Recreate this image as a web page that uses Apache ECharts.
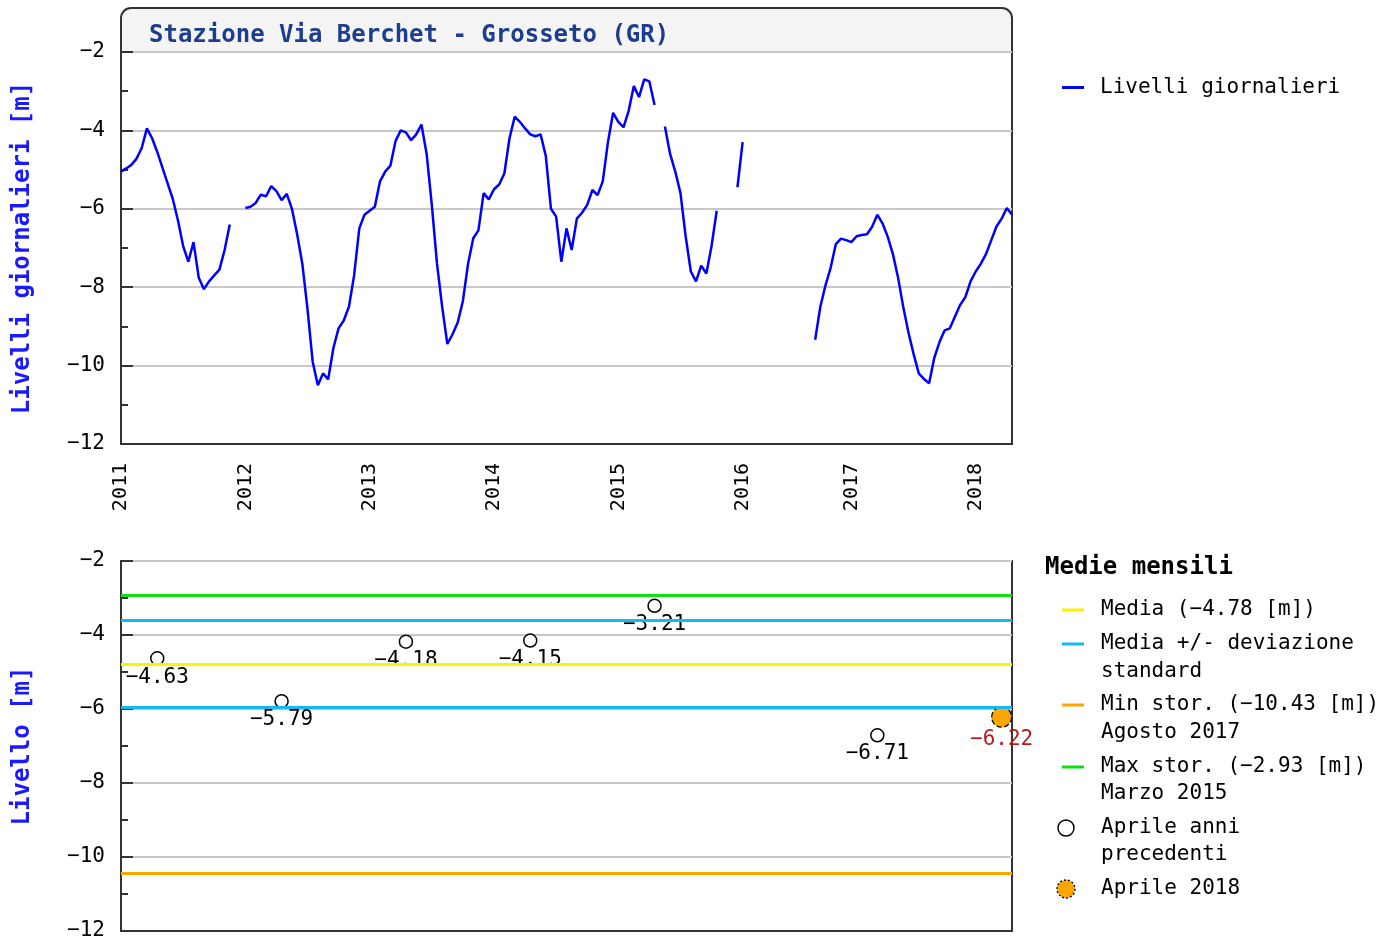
<!DOCTYPE html>
<html>
<head>
<meta charset="utf-8">
<title>Stazione Via Berchet - Grosseto (GR)</title>
<script src="https://cdn.jsdelivr.net/npm/echarts@6/dist/echarts.min.js"></script>
<style>
  html, body { margin: 0; padding: 0; background: #fff; }
  #chart { width: 1397px; height: 943px; }
</style>
</head>
<body>
<div id="chart"></div>
<script>
// livelli giornalieri (campionati ogni mezzo mese) [m]
const lv2011 = [-5.05, -4.97, -4.88, -4.72, -4.45, -3.95, -4.2, -4.55, -4.95, -5.35, -5.75, -6.3,
  -6.95, -7.35, -6.85, -7.75, -8.05, -7.85, -7.7, -7.55, -7.05, -6.4, null, null]
const lv2012 = [-5.98, -5.95, -5.85, -5.64, -5.68, -5.42, -5.55, -5.78, -5.62, -6.0, -6.65, -7.4,
  -8.55, -9.9, -10.5, -10.2, -10.35, -9.55, -9.05, -8.85, -8.5, -7.7, -6.5, -6.15]
const lv2013 = [-6.05, -5.95, -5.3, -5.05, -4.9, -4.27, -4.0, -4.05, -4.25, -4.1, -3.85, -4.6,
  -5.9, -7.4, -8.5, -9.45, -9.2, -8.9, -8.35, -7.4, -6.75, -6.55, -5.6, -5.76]
const lv2014 = [-5.5, -5.38, -5.1, -4.2, -3.65, -3.78, -3.95, -4.1, -4.15, -4.1, -4.65, -6.0,
  -6.2, -7.35, -6.5, -7.05, -6.25, -6.1, -5.9, -5.52, -5.65, -5.3, -4.3, -3.55]
const lv2015 = [-3.78, -3.92, -3.5, -2.87, -3.15, -2.7, -2.75, -3.35, null, -3.9, -4.6, -5.05,
  -5.6, -6.7, -7.6, -7.85, -7.45, -7.65, -6.95, -6.05, null, null, null, -5.45]
// 2016: mancano alcune date (marzo)
const lv2016 = [-4.3, null, null, null, null, null, null, null, null, null, null, null, null, null,
  -9.34, -8.5, -7.95, -7.5, -6.9, -6.76, -6.8]
const lv2017 = [-6.85, -6.7, -6.67, -6.65, -6.46, -6.15, -6.37, -6.71, -7.15, -7.75, -8.5, -9.15,
  -9.7, -10.2, -10.34, -10.45, -9.8, -9.4, -9.1, -9.05, -8.75, -8.45, -8.25, -7.85]
const lv2018 = [-7.6, -7.4, -7.15, -6.8, -6.45, -6.25, -5.98, -6.15]

const years = [2011, 2012, 2013, 2014, 2015, 2016, 2017, 2018]
const missingDates = ['2016-03-01', '2016-03-15', '2016-04-01']
const lastDate = '2018-04-15'

// medie mensili di aprile
const aprilDates = ['2011-04-15', '2012-04-15', '2013-04-15', '2014-04-15', '2015-04-15', '2017-03-15']
const aprilValues = [-4.63, -5.79, -4.18, -4.15, -3.21, -6.71]
const currentDate = '2018-03-15'
const currentValue = -6.22

const meanLevel = -4.78
const stdDev = 1.18
const minLevel = -10.43
const maxLevel = -2.93

const FONT = '"DejaVu Sans Mono", monospace'
const minus = s => String(s).replace('-', '\u2212')

// date semimensili dell'asse x
const categories = []
years.forEach(y => {
  for (let m = 1; m <= 12; m++) {
    ['01', '15'].forEach(d => {
      const s = y + '-' + String(m).padStart(2, '0') + '-' + d
      if (s <= lastDate && !missingDates.includes(s)) categories.push(s)
    })
  }
})
const levels = [].concat(lv2011, lv2012, lv2013, lv2014, lv2015, lv2016, lv2017, lv2018)

const yAxisBase = {
  type: 'value',
  min: -12,
  max: -2,
  interval: 2,
  axisLine: { show: true, lineStyle: { color: '#333', width: 2 } },
  axisTick: { show: true, inside: true, length: 12, lineStyle: { color: '#333', width: 2 } },
  minorTick: { show: true, splitNumber: 2, length: 7, lineStyle: { color: '#333', width: 2 } },
  splitLine: { show: true, lineStyle: { color: '#c8c8c8', width: 2 } },
  axisLabel: { margin: 16, fontFamily: FONT, fontSize: 21, color: '#000', formatter: minus },
  nameLocation: 'middle',
  nameRotate: 90,
  nameGap: 86,
  nameTextStyle: { fontFamily: FONT, fontSize: 24, fontWeight: 'bold', color: '#1a1aff' }
}

const chart = echarts.init(document.getElementById('chart'))

chart.setOption({
  animation: false,
  backgroundColor: '#fff',
  title: {
    text: 'Stazione Via Berchet - Grosseto (GR)',
    left: 144,
    top: 19,
    textStyle: { fontFamily: FONT, fontSize: 24, fontWeight: 'bold', color: '#1d3e8e' }
  },
  legend: {
    left: 1057,
    top: 72,
    data: ['Livelli giornalieri'],
    icon: 'rect',
    itemWidth: 22,
    itemHeight: 3,
    selectedMode: false,
    textStyle: { fontFamily: FONT, fontSize: 21, color: '#000', padding: [0, 0, 0, 11] }
  },
  grid: [
    { left: 121, top: 52, width: 891, height: 392, show: true, borderColor: '#333', borderWidth: 2, backgroundColor: '#fff', outerBoundsMode: 'none' },
    { left: 121, top: 561, width: 891, height: 370, show: true, borderColor: '#333', borderWidth: 2, backgroundColor: '#fff', outerBoundsMode: 'none' }
  ],
  xAxis: [
    {
      type: 'category',
      gridIndex: 0,
      data: categories,
      boundaryGap: false,
      axisLine: { show: true, lineStyle: { color: '#333', width: 2 } },
      axisTick: { show: false },
      splitLine: { show: false },
      axisLabel: {
        rotate: 90,
        margin: 19,
        fontFamily: FONT,
        fontSize: 20,
        color: '#000',
        interval: (i, v) => v.endsWith('-01-01'),
        formatter: v => v.slice(0, 4)
      }
    },
    {
      type: 'category',
      gridIndex: 1,
      data: categories,
      boundaryGap: false,
      axisLine: { show: true, lineStyle: { color: '#333', width: 2 } },
      axisTick: { show: false },
      axisLabel: { show: false },
      splitLine: { show: false }
    }
  ],
  yAxis: [
    Object.assign({}, yAxisBase, { gridIndex: 0, name: 'Livelli giornalieri [m]' }),
    Object.assign({}, yAxisBase, { gridIndex: 1, name: 'Livello [m]' })
  ],
  series: [
    {
      name: 'Livelli giornalieri',
      type: 'line',
      xAxisIndex: 0,
      yAxisIndex: 0,
      data: levels,
      showSymbol: false,
      connectNulls: false,
      color: '#0000ff',
      lineStyle: { color: '#0000ff', width: 2.5 },
      emphasis: { disabled: true }
    },
    {
      name: 'Statistiche',
      type: 'line',
      xAxisIndex: 1,
      yAxisIndex: 1,
      data: [],
      z: 1,
      markLine: {
        silent: true,
        symbol: ['none', 'none'],
        label: { show: false },
        lineStyle: { type: 'solid', width: 3 },
        data: [
          { yAxis: maxLevel, lineStyle: { color: '#11dd11', type: 'solid', width: 3 } },
          { yAxis: meanLevel + stdDev, lineStyle: { color: '#14baf5', type: 'solid', width: 3 } },
          { yAxis: meanLevel, lineStyle: { color: '#f5f500', type: 'solid', width: 3 } },
          { yAxis: meanLevel - stdDev, lineStyle: { color: '#14baf5', type: 'solid', width: 3 } },
          { yAxis: minLevel, lineStyle: { color: '#ffa500', type: 'solid', width: 3 } }
        ]
      }
    },
    {
      name: 'Aprile anni precedenti',
      type: 'scatter',
      xAxisIndex: 1,
      yAxisIndex: 1,
      z: 3,
      data: aprilDates.map((d, i) => [d, aprilValues[i]]),
      symbol: 'circle',
      symbolSize: 13,
      itemStyle: { color: '#fff', borderColor: '#000', borderWidth: 1.5, opacity: 1 },
      label: {
        show: true,
        position: 'bottom',
        distance: 1,
        formatter: p => minus(p.value[1].toFixed(2)),
        fontFamily: FONT,
        fontSize: 21,
        color: '#000'
      },
      emphasis: { disabled: true }
    },
    {
      name: 'Aprile 2018',
      type: 'scatter',
      xAxisIndex: 1,
      yAxisIndex: 1,
      z: 4,
      data: [[currentDate, currentValue]],
      symbol: 'circle',
      symbolSize: 20,
      itemStyle: { color: '#ffa500', borderColor: '#000', borderWidth: 1.3, borderType: 'dashed', opacity: 1 },
      label: {
        show: true,
        position: 'bottom',
        distance: 1,
        formatter: p => minus(p.value[1].toFixed(2)),
        fontFamily: FONT,
        fontSize: 21,
        color: '#b01e1e'
      },
      emphasis: { disabled: true }
    }
  ],
  graphic: [
    // riquadro del titolo
    {
      type: 'rect',
      z: -1,
      shape: { x: 121, y: 8, width: 891, height: 44, r: [10, 10, 0, 0] },
      style: { fill: '#f4f4f4', stroke: '#333', lineWidth: 2 }
    },
    // legenda medie mensili
    { type: 'text', style: { x: 1045, y: 568, text: 'Medie mensili', font: 'bold 24px ' + FONT, fill: '#000', verticalAlign: 'middle' } },
    { type: 'line', shape: { x1: 1062, y1: 610, x2: 1084, y2: 610 }, style: { stroke: '#f5f500', lineWidth: 3 } },
    { type: 'text', style: { x: 1101, y: 610, text: 'Media (' + minus(meanLevel.toFixed(2)) + ' [m])', font: '21px ' + FONT, fill: '#000', verticalAlign: 'middle' } },
    { type: 'line', shape: { x1: 1062, y1: 644, x2: 1084, y2: 644 }, style: { stroke: '#14baf5', lineWidth: 3 } },
    { type: 'text', style: { x: 1101, y: 644, text: 'Media +/- deviazione', font: '21px ' + FONT, fill: '#000', verticalAlign: 'middle' } },
    { type: 'text', style: { x: 1101, y: 672, text: 'standard', font: '21px ' + FONT, fill: '#000', verticalAlign: 'middle' } },
    { type: 'line', shape: { x1: 1062, y1: 705, x2: 1084, y2: 705 }, style: { stroke: '#ffa500', lineWidth: 3 } },
    { type: 'text', style: { x: 1101, y: 705, text: 'Min stor. (' + minus(minLevel.toFixed(2)) + ' [m])', font: '21px ' + FONT, fill: '#000', verticalAlign: 'middle' } },
    { type: 'text', style: { x: 1101, y: 733, text: 'Agosto 2017', font: '21px ' + FONT, fill: '#000', verticalAlign: 'middle' } },
    { type: 'line', shape: { x1: 1062, y1: 767, x2: 1084, y2: 767 }, style: { stroke: '#11dd11', lineWidth: 3 } },
    { type: 'text', style: { x: 1101, y: 767, text: 'Max stor. (' + minus(maxLevel.toFixed(2)) + ' [m])', font: '21px ' + FONT, fill: '#000', verticalAlign: 'middle' } },
    { type: 'text', style: { x: 1101, y: 794, text: 'Marzo 2015', font: '21px ' + FONT, fill: '#000', verticalAlign: 'middle' } },
    { type: 'circle', shape: { cx: 1066, cy: 828, r: 8 }, style: { fill: '#fff', stroke: '#000', lineWidth: 1.5 } },
    { type: 'text', style: { x: 1101, y: 828, text: 'Aprile anni', font: '21px ' + FONT, fill: '#000', verticalAlign: 'middle' } },
    { type: 'text', style: { x: 1101, y: 855, text: 'precedenti', font: '21px ' + FONT, fill: '#000', verticalAlign: 'middle' } },
    { type: 'circle', shape: { cx: 1066, cy: 889, r: 9 }, style: { fill: '#ffa500', stroke: '#000', lineWidth: 1.3, lineDash: [2, 2] } },
    { type: 'text', style: { x: 1101, y: 889, text: 'Aprile 2018', font: '21px ' + FONT, fill: '#000', verticalAlign: 'middle' } }
  ]
})

window.addEventListener('resize', () => chart.resize())
</script>
</body>
</html>
